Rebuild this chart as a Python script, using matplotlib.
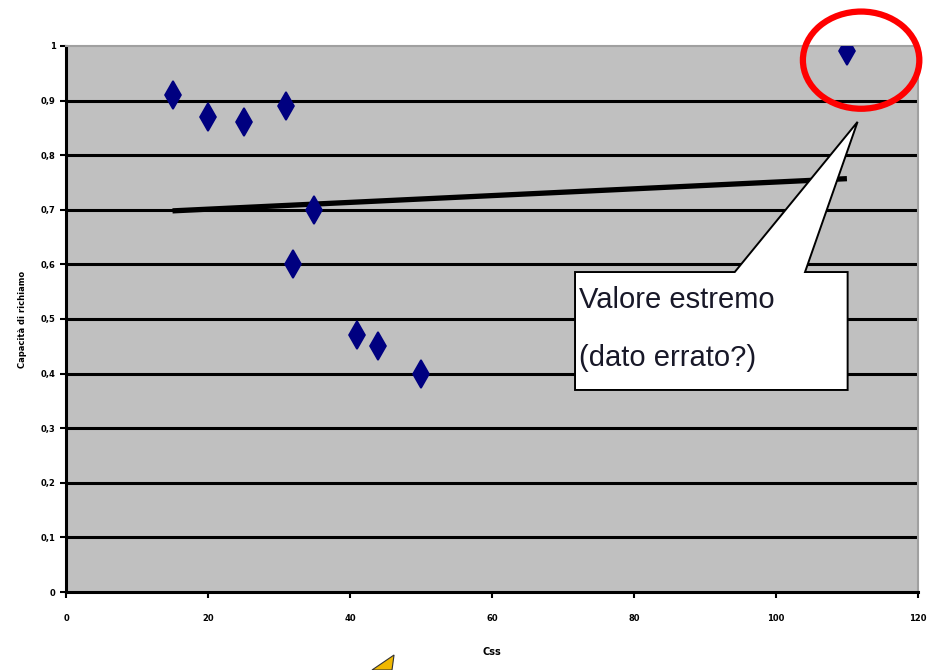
import numpy as np
import matplotlib.pyplot as plt
from matplotlib.patches import Ellipse, Polygon

# dati
css = [15, 20, 25, 31, 35, 32, 41, 44, 50, 110]
capacita = [0.91, 0.87, 0.86, 0.89, 0.70, 0.60, 0.47, 0.45, 0.40, 0.99]

# linea di tendenza (estremi letti)
trend_x = [15, 110]
trend_y = [0.698, 0.757]

y_ticks = [0, 0.1, 0.2, 0.3, 0.4, 0.5, 0.6, 0.7, 0.8, 0.9, 1]
y_labels = ["0", "0,1", "0,2", "0,3", "0,4", "0,5", "0,6", "0,7", "0,8", "0,9", "1"]
x_ticks = [0, 20, 40, 60, 80, 100, 120]

fig = plt.figure(figsize=(9.3, 6.7), dpi=100)
ax = fig.add_axes([0.071, 0.1164, 0.916, 0.815])
ax.set_facecolor("#c0c0c0")
ax.set_xlim(0, 120)
ax.set_ylim(0, 1)

for yv in y_ticks[1:-1]:
    ax.axhline(yv, color="black", lw=2.2, zorder=1)

ax.plot(trend_x, trend_y, color="black", lw=3.8, solid_capstyle="butt", zorder=2)
ax.plot(css, capacita, linestyle="none", marker="d", markersize=14,
        markeredgewidth=1.2, color="#000080", zorder=3)

for s in ["top", "right"]:
    ax.spines[s].set_color("#a0a0a0")
    ax.spines[s].set_linewidth(1.5)
for s in ["left", "bottom"]:
    ax.spines[s].set_linewidth(2.2)

ax.set_yticks(y_ticks)
ax.set_yticklabels(y_labels)
ax.set_xticks(x_ticks)
ax.tick_params(axis="both", labelsize=6, length=4, width=1.5, direction="out")
for lab in ax.get_xticklabels() + ax.get_yticklabels():
    lab.set_fontweight("bold")
ax.tick_params(axis="x", pad=12)

ax.set_ylabel("Capacità di richiamo", fontsize=6, fontweight="bold", labelpad=10)
ax.set_xlabel("Css", fontsize=7, fontweight="bold", labelpad=17)

# fumetto
callout = Polygon([(71.7, 0.37), (110.1, 0.37), (110.1, 0.586), (104.1, 0.586),
                   (111.5, 0.861), (94.2, 0.586), (71.7, 0.586)],
                  closed=True, facecolor="white", edgecolor="black", lw=1.4, zorder=4)
ax.add_patch(callout)
ax.text(72.2, 0.535, "Valore estremo", fontsize=21,
        family=["Liberation Sans", "DejaVu Sans"], color="#181828",
        va="center", ha="left", zorder=5)
ax.text(72.2, 0.428, "(dato errato?)", fontsize=21,
        family=["Liberation Sans", "DejaVu Sans"], color="#181828",
        va="center", ha="left", zorder=5)

# cerchio rosso sul valore anomalo
circle = Ellipse((112.0, 0.974), 16.4, 0.178, fill=False, edgecolor="red",
                 lw=4.5, clip_on=False, zorder=6)
ax.add_patch(circle)

# pezzo di un altro fumetto tagliato in basso
fig.patches.append(Polygon([(0.400, 0.0), (0.4237, 0.0224), (0.4215, 0.0)],
                           closed=True, transform=fig.transFigure,
                           facecolor="#f0b800", edgecolor="#333333", lw=0.8))

fig.savefig("out.png", dpi=100)
